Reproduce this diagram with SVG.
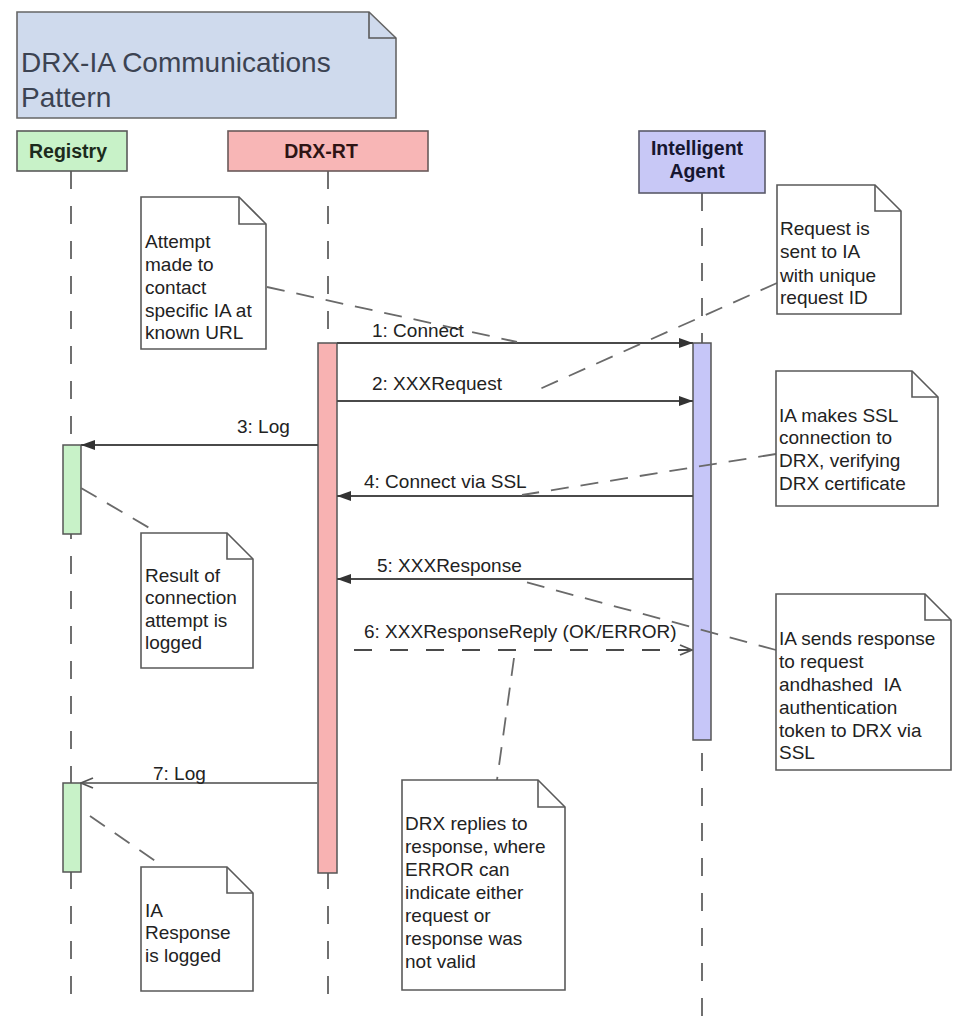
<svg xmlns="http://www.w3.org/2000/svg" width="954" height="1018" viewBox="0 0 954 1018">
<style>
text{font-family:"Liberation Sans",Arial,sans-serif;fill:#222}
.t{font-size:19px}
.h{font-size:19.5px;font-weight:bold;text-anchor:middle}
.note{fill:#fff;stroke:#5a5a5a;stroke-width:1.6}
.fold{fill:none;stroke:#5a5a5a;stroke-width:1.6}
.life{stroke:#707070;stroke-width:2;stroke-dasharray:18 17;fill:none}
.msg{stroke:#4a4a4a;stroke-width:2;fill:none}
.anchor{stroke:#6a6a6a;stroke-width:1.8;stroke-dasharray:18 12;fill:none}
.act{stroke:#555;stroke-width:1.5}
</style>
<defs>
<marker id="fill" markerWidth="14" markerHeight="10" refX="14" refY="5" orient="auto" markerUnits="userSpaceOnUse">
<path d="M0,0 L14,5 L0,10 Z" fill="#333"/>
</marker>
<marker id="open" markerWidth="14" markerHeight="12" refX="13" refY="6" orient="auto" markerUnits="userSpaceOnUse">
<path d="M1,1 L13,6 L1,11" fill="none" stroke="#555" stroke-width="1.8"/>
</marker>
</defs>

<g id="title">
<path class="note" d="M17,12 H369 L396,38 V118 H17 Z" style="fill:#cfdaed;stroke:#666"/>
<path class="fold" d="M369,12 V38 H396"/>
<text x="21" y="72" style="font-size:28px;fill:#3c4352">DRX-IA Communications</text>
<text x="21" y="107" style="font-size:28px;fill:#3c4352">Pattern</text>
</g>

<g id="lifelines">
<line class="life" x1="71" y1="171" x2="71" y2="1003"/>
<line class="life" x1="328" y1="171" x2="328" y2="1003"/>
<line class="life" x1="702" y1="193" x2="702" y2="1018"/>
</g>

<g id="registry">
<rect x="17" y="131" width="110" height="40" fill="#c8f2c8" stroke="#5a5a5a" stroke-width="1.6"/>
<text class="h" x="68" y="158" style="fill:#1c2a1c">Registry</text>
</g>
<g id="drx-rt">
<rect x="228" y="131" width="200" height="40" fill="#f8b6b6" stroke="#6a5a5a" stroke-width="1.6"/>
<text class="h" x="321" y="158" style="fill:#2e1414">DRX-RT</text>
</g>
<g id="intelligent-agent">
<rect x="639" y="131" width="126" height="62" fill="#c8c8f6" stroke="#5a5a6a" stroke-width="1.6"/>
<text class="h" x="697" y="155" style="fill:#161630">Intelligent</text>
<text class="h" x="697" y="178" style="fill:#161630">Agent</text>
</g>

<g id="activations">
<rect class="act" x="318" y="343" width="19" height="530" fill="#f8b2b2"/>
<rect class="act" x="693" y="343" width="18" height="397" fill="#c6c6f8"/>
<rect class="act" x="63" y="445" width="18" height="89" fill="#c8f2c8"/>
<rect class="act" x="63" y="783" width="18" height="89" fill="#c8f2c8"/>
</g>

<g id="connectors">
<line class="msg" x1="337" y1="343" x2="693" y2="343" marker-end="url(#fill)"/>
<line class="msg" x1="337" y1="401" x2="693" y2="401" marker-end="url(#fill)"/>
<line class="msg" x1="318" y1="445" x2="81" y2="445" marker-end="url(#fill)"/>
<line class="msg" x1="693" y1="496" x2="337" y2="496" marker-end="url(#fill)"/>
<line class="msg" x1="693" y1="579" x2="337" y2="579" marker-end="url(#fill)"/>
<line class="msg" x1="354" y1="650" x2="692" y2="650" style="stroke-dasharray:18 18" marker-end="url(#open)"/>
<line class="msg" x1="318" y1="783" x2="81" y2="783" style="stroke:#777" marker-end="url(#open)"/>
<line class="anchor" x1="267" y1="287" x2="517" y2="342"/>
<line class="anchor" x1="777" y1="283" x2="533" y2="392"/>
<line class="anchor" x1="776" y1="454" x2="522" y2="495"/>
<line class="anchor" x1="81" y1="488" x2="158" y2="533"/>
<line class="anchor" x1="776" y1="650" x2="518" y2="580"/>
<line class="anchor" x1="514" y1="658" x2="497" y2="780"/>
<line class="anchor" x1="90" y1="816" x2="164" y2="867"/>
</g>

<g id="labels">
<text class="t" x="372" y="337">1: Connect</text>
<text class="t" x="372" y="390">2: XXXRequest</text>
<text class="t" x="237" y="433">3: Log</text>
<text class="t" x="364" y="488">4: Connect via SSL</text>
<text class="t" x="377" y="572">5: XXXResponse</text>
<text class="t" x="364" y="638">6: XXXResponseReply (OK/ERROR)</text>
<text class="t" x="153" y="780">7: Log</text>
</g>

<g id="note-attempt">
<path class="note" d="M141,197 H239 L266,224 V349 H141 Z"/>
<path class="fold" d="M239,197 V224 H266"/>
<text class="t" x="145" y="248">Attempt</text>
<text class="t" x="145" y="271">made to</text>
<text class="t" x="145" y="294">contact</text>
<text class="t" x="145" y="317">specific IA at</text>
<text class="t" x="145" y="339">known URL</text>
</g>

<g id="note-request">
<path class="note" d="M777,185 H875 L901,211 V314 H777 Z"/>
<path class="fold" d="M875,185 V211 H901"/>
<text class="t" x="780" y="235">Request is</text>
<text class="t" x="780" y="258">sent to IA</text>
<text class="t" x="780" y="282">with unique</text>
<text class="t" x="780" y="304">request ID</text>
</g>

<g id="note-ssl">
<path class="note" d="M776,371 H912 L938,397 V506 H776 Z"/>
<path class="fold" d="M912,371 V397 H938"/>
<text class="t" x="779" y="422">IA makes SSL</text>
<text class="t" x="779" y="444">connection to</text>
<text class="t" x="779" y="467">DRX, verifying</text>
<text class="t" x="779" y="490">DRX certificate</text>
</g>

<g id="note-result">
<path class="note" d="M141,533 H227 L253,559 V668 H141 Z"/>
<path class="fold" d="M227,533 V559 H253"/>
<text class="t" x="145" y="582">Result of</text>
<text class="t" x="145" y="604">connection</text>
<text class="t" x="145" y="627">attempt is</text>
<text class="t" x="145" y="649">logged</text>
</g>

<g id="note-iasends">
<path class="note" d="M776,594 H925 L951,620 V770 H776 Z"/>
<path class="fold" d="M925,594 V620 H951"/>
<text class="t" x="779" y="645">IA sends response</text>
<text class="t" x="779" y="668">to request</text>
<text class="t" x="779" y="691" xml:space="preserve">andhashed  IA</text>
<text class="t" x="779" y="714">authentication</text>
<text class="t" x="779" y="737">token to DRX via</text>
<text class="t" x="779" y="759">SSL</text>
</g>

<g id="note-drx">
<path class="note" d="M402,780 H538 L565,807 V990 H402 Z"/>
<path class="fold" d="M538,780 V807 H565"/>
<text class="t" x="405" y="830">DRX replies to</text>
<text class="t" x="405" y="853">response, where</text>
<text class="t" x="405" y="876">ERROR can</text>
<text class="t" x="405" y="899">indicate either</text>
<text class="t" x="405" y="922">request or</text>
<text class="t" x="405" y="945">response was</text>
<text class="t" x="405" y="968">not valid</text>
</g>

<g id="note-iaresponse">
<path class="note" d="M141,867 H227 L253,893 V991 H141 Z"/>
<path class="fold" d="M227,867 V893 H253"/>
<text class="t" x="145" y="917">IA</text>
<text class="t" x="145" y="939">Response</text>
<text class="t" x="145" y="962">is logged</text>
</g>
</svg>
